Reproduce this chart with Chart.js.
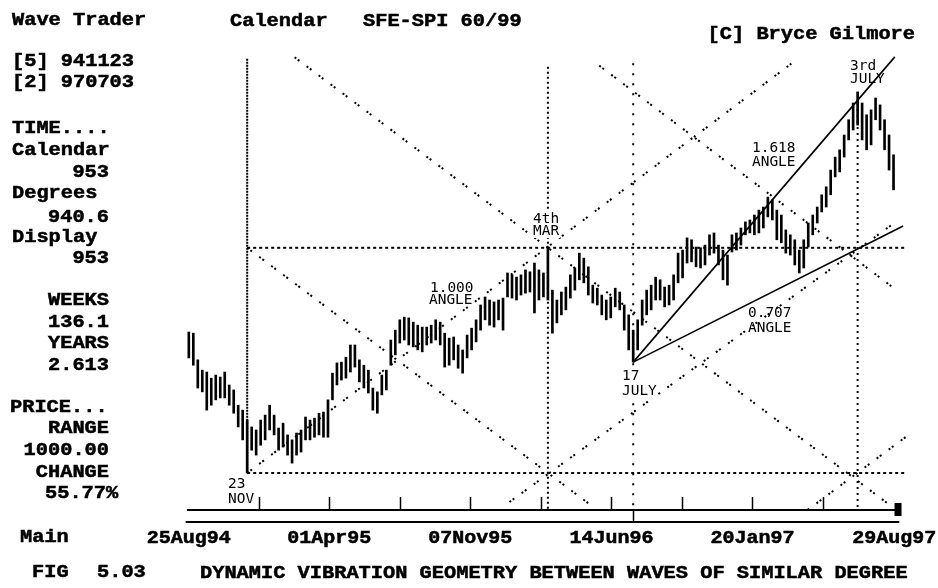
<!DOCTYPE html>
<html>
<head>
<meta charset="utf-8">
<script src="https://cdn.jsdelivr.net/npm/chart.js@4/dist/chart.umd.min.js"></script>
<style>
  html, body { margin: 0; padding: 0; background: #fff; }
  canvas { display: block; }
</style>
</head>
<body>
<canvas id="chart" width="938" height="588"></canvas>
<script>
// SFE-SPI weekly high / low, one bar every 7 days from 25Aug94 (day 0)
const highs = [
  2163, 2160, 2090, 2063, 2058, 2042, 2050, 2045, 2058, 2024,
  2011, 1971, 1958, 1932, 1914, 1906, 1932, 1945, 1971, 1945,
  1911, 1924, 1893, 1880, 1898, 1906, 1940, 1932, 1937, 1950,
  1953, 1985, 2055, 2082, 2084, 2097, 2129, 2129, 2090, 2076,
  2063, 2016, 2006, 2050, 2063, 2142, 2168, 2195, 2202, 2200,
  2189, 2181, 2176, 2176, 2181, 2195, 2189, 2160, 2147, 2150,
  2129, 2116, 2155, 2173, 2195, 2234, 2255, 2247, 2242, 2247,
  2252, 2318, 2313, 2307, 2313, 2326, 2321, 2344, 2326, 2318,
  2384, 2273, 2247, 2268, 2281, 2313, 2331, 2370, 2357, 2334,
  2286, 2278, 2260, 2247, 2255, 2278, 2268, 2234, 2208, 2168,
  2195, 2247, 2273, 2286, 2307, 2300, 2281, 2286, 2313, 2370,
  2378, 2410, 2405, 2386, 2384, 2391, 2418, 2423, 2391, 2378,
  2365, 2418, 2423, 2436, 2452, 2457, 2470, 2483, 2491, 2517,
  2510, 2483, 2470, 2431, 2418, 2405, 2378, 2405, 2449, 2470,
  2491, 2523, 2544, 2588, 2622, 2641, 2680, 2720, 2764, 2793,
  2764, 2733, 2746, 2777, 2759, 2720, 2680, 2628
];
const lows = [
  2095, 2076, 2016, 2006, 1958, 1971, 1985, 1990, 1990, 1971,
  1950, 1914, 1880, 1793, 1853, 1840, 1866, 1880, 1906, 1893,
  1853, 1861, 1840, 1819, 1840, 1848, 1880, 1880, 1887, 1893,
  1887, 1887, 1985, 2024, 2037, 2042, 2058, 2071, 2032, 2016,
  2003, 1958, 1950, 1998, 2011, 2076, 2103, 2134, 2142, 2129,
  2124, 2116, 2111, 2129, 2134, 2142, 2129, 2071, 2076, 2090,
  2068, 2055, 2095, 2116, 2137, 2168, 2195, 2181, 2176, 2195,
  2168, 2255, 2252, 2247, 2260, 2265, 2268, 2213, 2247, 2255,
  2247, 2160, 2187, 2208, 2221, 2252, 2273, 2300, 2292, 2260,
  2239, 2234, 2208, 2195, 2200, 2229, 2221, 2168, 2116, 2084,
  2116, 2181, 2208, 2221, 2247, 2247, 2229, 2234, 2247, 2292,
  2305, 2344, 2347, 2334, 2331, 2339, 2365, 2370, 2339, 2300,
  2286, 2373, 2378, 2391, 2418, 2423, 2418, 2423, 2436, 2465,
  2457, 2405, 2397, 2370, 2365, 2339, 2318, 2331, 2386, 2418,
  2449, 2478, 2491, 2523, 2570, 2583, 2622, 2667, 2693, 2706,
  2667, 2641, 2654, 2720, 2693, 2641, 2588, 2536
];
const barDays = highs.map((_, i) => i * 7);

// date axis
const tickLabels = ['25Aug94', '01Apr95', '07Nov95', '14Jun96', '20Jan97', '29Aug97'];
const tickLabelDays = [0, 219, 439, 659, 879, 1100];
const minorTickDays = [109, 219, 329, 439, 549, 659, 769, 879, 989];

// pivots: 23Nov94 low, 4Mar96 high, 17Jul96 low, 3Jul97 high  [day, price]
const pivotDays = [91, 560, 693, 1043];
const pivotPrices = [1793, 2384, 2084, 2793];

// dotted geometry lines  [day0, price0, day1, price1]
const diagonals = [
  [91, 1793, 945, 2874],
  [165, 2884, 1090, 1713],
  [91, 2384, 630, 1705],
  [500, 1717, 1105, 2455],
  [640, 2862, 1102, 2275],
  [960, 1690, 1120, 1890]
];
const horizontals = [
  [91, 2384, 1118, 2384],
  [91, 1793, 1118, 1793]
];
const verticals = [
  [91, 2880, 91, 1793],
  [560, 2859, 560, 1696],
  [693, 2868, 693, 1696],
  [1043, 2764, 1043, 1696]
];
const verticalDash = [[2, 1], [2, 3], [2, 8], [2, 4]];
// solid angle lines from the 17Jul96 low
const angleLines = [
  [693, 2084, 1101, 2885],
  [693, 2084, 1114, 2441]
];

function seg(s) {
  return [{ x: s[0], y: s[1] }, { x: s[2], y: s[3] }];
}
function lineSet(s, dash, width, order) {
  return {
    type: 'line', data: seg(s), borderColor: '#000', borderWidth: width,
    borderDash: dash, pointRadius: 0, fill: false, tension: 0, order: order
  };
}

const datasets = [{
  type: 'bar',
  data: barDays.map((d, i) => ({ x: d, y: [lows[i], highs[i]] })),
  backgroundColor: '#000',
  barThickness: 2,
  order: 1
}];
diagonals.forEach(s => datasets.push(lineSet(s, [2, 2, 2, 9], 2, 2)));
horizontals.forEach(s => datasets.push(lineSet(s, [3, 3], 2, 2)));
verticals.forEach((s, i) => datasets.push(lineSet(s, verticalDash[i], 2, 2)));
angleLines.forEach(s => datasets.push(lineSet(s, [], 1.6, 0)));

const BIG = 'bold 18px "Liberation Mono"';
const SMALL = '14px "DejaVu Sans Mono"';

function put(ctx, s, x, y, o) {
  ctx.save();
  ctx.font = o.font;
  const sx = o.cw / ctx.measureText('M').width;
  const w = ctx.measureText(s).width * sx;
  let x0 = x;
  if (o.align === 'right') x0 = x - w;
  else if (o.align === 'center') x0 = x - w / 2;
  if (o.bg) {
    ctx.fillStyle = '#fff';
    ctx.fillRect(x0 - 1, y - o.bg, w + 2, o.bg + 3);
  }
  ctx.translate(x0, y);
  ctx.scale(sx, 1);
  ctx.fillStyle = '#000';
  ctx.textBaseline = 'alphabetic';
  ctx.fillText(s, 0, 0);
  if (o.bold) {
    ctx.strokeStyle = '#000';
    ctx.lineWidth = o.bold;
    ctx.strokeText(s, 0, 0);
  }
  ctx.restore();
}

const panelText = [
  ['Wave Trader', 12, 25, 'left'],
  ['[5] 941123', 12, 66, 'left'],
  ['[2] 970703', 12, 87, 'left'],
  ['TIME....', 12, 133, 'left'],
  ['Calendar', 12, 155, 'left'],
  ['953', 109, 177, 'right'],
  ['Degrees', 12, 198, 'left'],
  ['940.6', 109, 222, 'right'],
  ['Display', 12, 242, 'left'],
  ['953', 109, 263, 'right'],
  ['WEEKS', 109, 305, 'right'],
  ['136.1', 109, 327, 'right'],
  ['YEARS', 109, 348, 'right'],
  ['2.613', 109, 370, 'right'],
  ['PRICE...', 10, 412, 'left'],
  ['RANGE', 109, 433, 'right'],
  ['1000.00', 109, 455, 'right'],
  ['CHANGE', 109, 477, 'right'],
  ['55.77%', 45, 498, 'left'],
  ['Main', 20, 542, 'left'],
  ['FIG', 32, 577, 'left'],
  ['5.03', 97, 577, 'left'],
  ['Calendar', 230, 26, 'left'],
  ['SFE-SPI 60/99', 363, 26, 'left'],
  ['[C] Bryce Gilmore', 915, 39, 'right'],
  ['DYNAMIC VIBRATION GEOMETRY BETWEEN WAVES OF SIMILAR DEGREE', 200, 578, 'left']
];
const notes = [
  ['23', 228, 488, 0], ['NOV', 228, 503, 0],
  ['4th', 533, 223, 12], ['MAR', 533, 235, 12],
  ['1.000', 430, 292, 0], ['ANGLE', 429, 304, 0],
  ['17', 622, 380, 12], ['JULY', 622, 395, 12],
  ['0.707', 748, 317, 0], ['ANGLE', 748, 332, 0],
  ['1.618', 752, 152, 0], ['ANGLE', 752, 166, 0],
  ['3rd', 850, 70, 0], ['JULY', 850, 83, 0]
];

const decor = {
  id: 'decor',
  afterDraw(chart) {
    const ctx = chart.ctx;
    const xs = chart.scales.x;
    const y0 = chart.chartArea.bottom;
    ctx.save();
    ctx.strokeStyle = '#000';
    ctx.fillStyle = '#000';
    // time axis rails
    ctx.lineWidth = 2;
    ctx.beginPath();
    ctx.moveTo(xs.getPixelForValue(-3), y0);
    ctx.lineTo(xs.getPixelForValue(1108), y0);
    ctx.moveTo(xs.getPixelForValue(-5), y0 + 12);
    ctx.lineTo(xs.getPixelForValue(1108), y0 + 12);
    ctx.stroke();
    ctx.lineWidth = 1.5;
    ctx.beginPath();
    minorTickDays.forEach(d => {
      const x = Math.round(xs.getPixelForValue(d)) + 0.5;
      ctx.moveTo(x, y0 - 13);
      ctx.lineTo(x, y0);
    });
    const xj = Math.round(xs.getPixelForValue(pivotDays[2])) + 0.5;
    ctx.moveTo(xj, y0);
    ctx.lineTo(xj, y0 + 12);
    ctx.stroke();
    const xb = xs.getPixelForValue(1106);
    ctx.fillRect(xb - 3.5, y0 - 7, 7, 13);
    ctx.restore();

    tickLabels.forEach((t, i) => {
      put(ctx, t, xs.getPixelForValue(tickLabelDays[i]), 543,
        { font: BIG, cw: 12, align: 'center', bold: 0.5 });
    });
    panelText.forEach(p => put(ctx, p[0], p[1], p[2],
      { font: BIG, cw: 12.2, align: p[3], bold: 0.5 }));
    notes.forEach(n => put(ctx, n[0], n[1], n[2],
      { font: SMALL, cw: 8.7, align: 'left', bg: n[3] }));
  }
};

new Chart(document.getElementById('chart'), {
  type: 'bar',
  data: { datasets: datasets },
  options: {
    responsive: false,
    animation: false,
    devicePixelRatio: 1,
    layout: { padding: { left: 176, right: 31, top: 50, bottom: 78 } },
    plugins: { legend: { display: false }, tooltip: { enabled: false } },
    scales: {
      x: { type: 'linear', min: -20, max: 1120, offset: false, display: false },
      y: { type: 'linear', min: 1696, max: 2903, display: false }
    }
  },
  plugins: [decor]
});
</script>
</body>
</html>
